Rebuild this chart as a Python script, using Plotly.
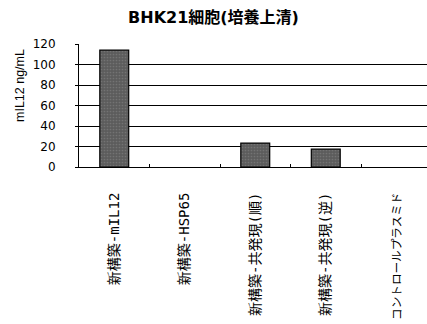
import plotly.graph_objects as go

# Samples and measured mIL12 concentration in culture supernatant (ng/mL)
categories = ["新構築-mIL12", "新構築-HSP65", "新構築-共発現(順)", "新構築-共発現(逆)", "コントロールプラスミド"]
values = [114, 0, 23.3, 17.4, 0]
y_ticks = [0, 20, 40, 60, 80, 100, 120]

CJK = "Noto Sans CJK JP"
LABEL_FONT = "DejaVu Sans Mono, " + CJK
TITLE_FONT = "DejaVu Sans, " + CJK


def tick_text(label):
    # all-katakana label is set a bit tighter
    if label.isascii() or any(c in label for c in "新構築"):
        return label
    return f'<span style="font-size:11.6px">{label}</span>'


fig = go.Figure(
    go.Bar(
        x=categories,
        y=values,
        marker=dict(
            color="#5c5c5c",
            line=dict(color="#000000", width=[1.2 if v > 0 else 0 for v in values]),
            pattern=dict(shape=".", fgcolor="#8a8a8a", size=3, solidity=0.25),
        ),
    )
)

fig.update_layout(
    width=427,
    height=324,
    margin=dict(l=79, r=0, t=44, b=157),
    paper_bgcolor="white",
    plot_bgcolor="white",
    bargap=0.59,
    showlegend=False,
    font=dict(family=CJK, color="#000000", size=12),
    title=dict(
        text="<b>BHK21細胞(培養上清)</b>",
        x=213.5 / 427,
        xref="container",
        xanchor="center",
        y=1 - 17 / 324,
        yanchor="middle",
        font=dict(size=16, family=TITLE_FONT),
    ),
)

fig.update_xaxes(
    range=[-0.5, 4.436],
    tickmode="array",
    tickvals=categories,
    ticktext=[tick_text(c) for c in categories],
    showline=True,
    linecolor="#000000",
    linewidth=1,
    tickson="boundaries",
    ticks="inside",
    ticklen=3,
    tickcolor="#000000",
    tickangle=-90,
    ticklabelstandoff=19,
    tickfont=dict(size=14, family=LABEL_FONT),
    showgrid=False,
)

fig.update_yaxes(
    range=[0, 120],
    tickvals=y_ticks,
    showline=True,
    linecolor="#000000",
    linewidth=1,
    ticks="outside",
    ticklen=3,
    tickcolor="#000000",
    ticklabelstandoff=17,
    tickfont=dict(size=12, family="DejaVu Sans"),
    showgrid=True,
    gridcolor="#000000",
    gridwidth=1,
    zeroline=False,
)

fig.add_annotation(
    text="mIL12 ng/mL",
    xref="paper",
    yref="paper",
    x=-59 / 348,
    y=(167 - 86) / 123,
    xanchor="center",
    yanchor="middle",
    textangle=-90,
    showarrow=False,
    font=dict(size=12.5, family="Liberation Sans"),
)

fig.write_html("out.html")
